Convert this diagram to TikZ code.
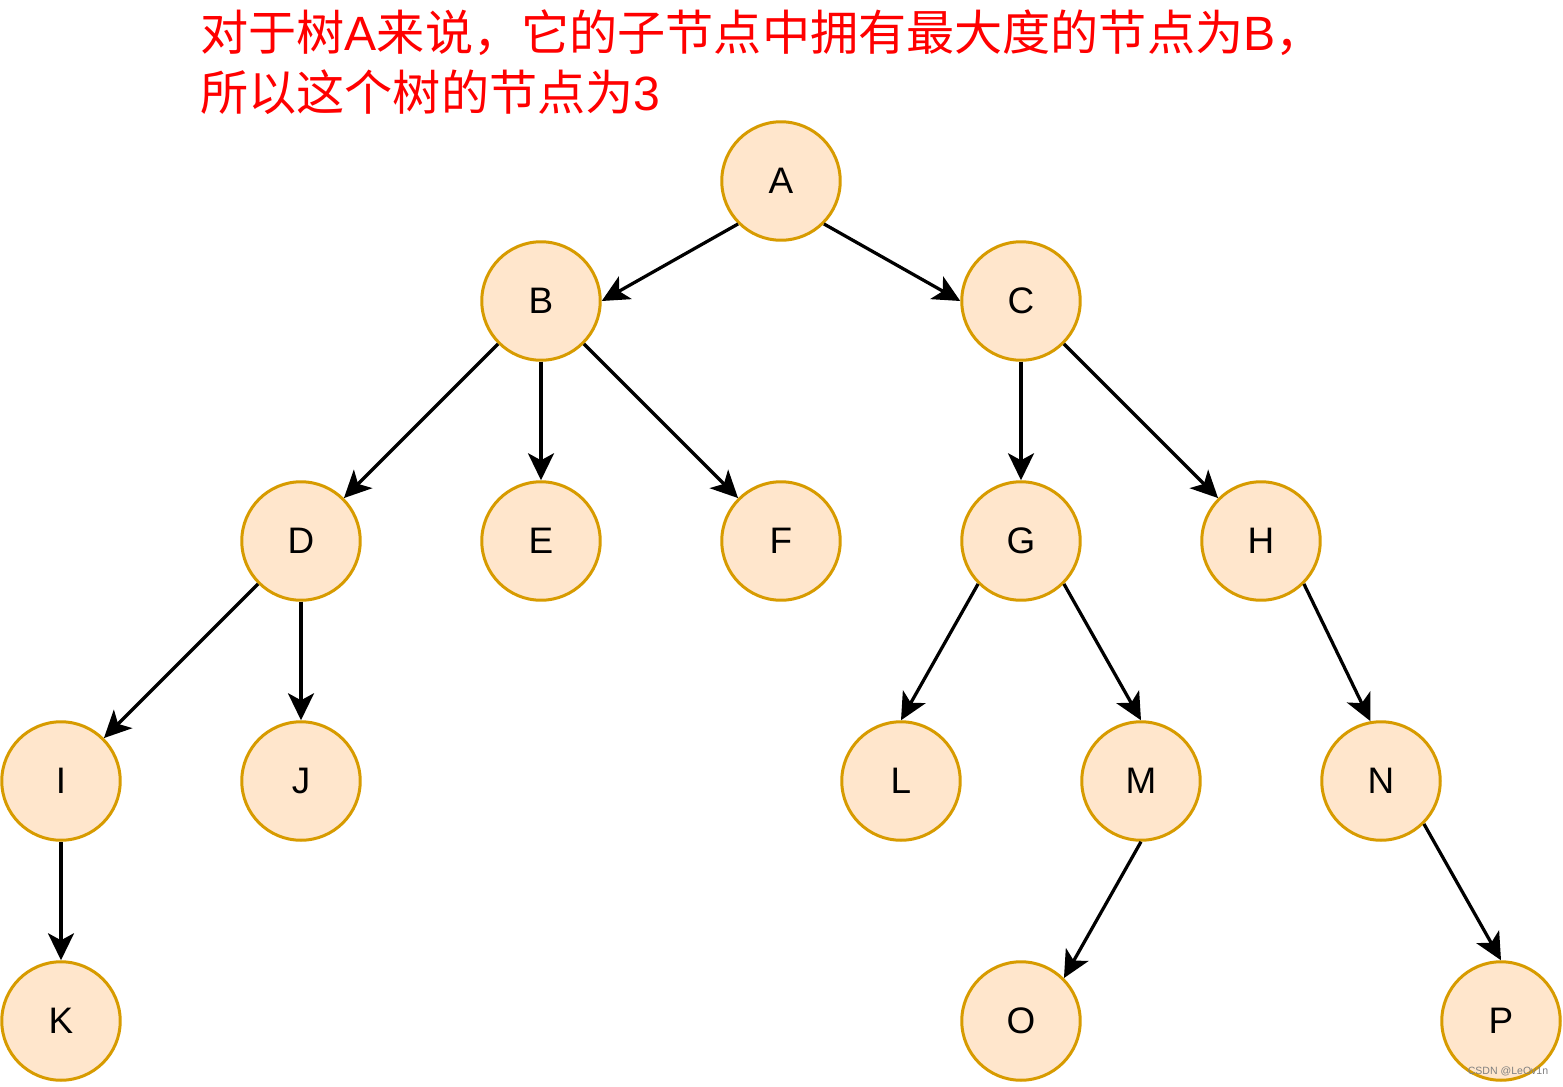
\documentclass[tikz,border=0pt]{standalone}
\usepackage{fontspec}
\setmainfont{Liberation Sans}
\newfontfamily\cjk{Noto Sans CJK SC}
\usetikzlibrary{arrows.meta}
\definecolor{nodefill}{HTML}{FFE6CC}
\definecolor{nodedraw}{HTML}{D79B00}
\begin{document}
\begin{tikzpicture}[x=0.02cm, y=-0.02cm,
        vertex/.style={draw=nodedraw, fill=nodefill, circle, line width=0.06cm, minimum size=2.37cm, inner sep=0pt, font=\fontsize{21}{25}\selectfont},
        edge/.style={-{Stealth[length=0.54cm, width=0.52cm, inset=0.14cm]}, line width=0.065cm}]
        \useasboundingbox (0,0) rectangle (1563,1086);
        \node[anchor=base west, inner sep=0pt, text=red, font=\fontsize{27.4}{31}\selectfont] (t1) at (200,50) {{\cjk 对于树}A{\cjk 来说，它的子节点中拥有最大度的节点为}B{\cjk ，}};
        \node[anchor=base west, inner sep=0pt, text=red, font=\fontsize{27.4}{31}\selectfont] (t2) at (200,110) {{\cjk 所以这个树的节点为}3};
        \node[vertex] (A) at (781,181) {A};
        \node[vertex] (B) at (541,301) {B};
        \node[vertex] (C) at (1021,301) {C};
        \node[vertex] (D) at (301,541) {D};
        \node[vertex] (E) at (541,541) {E};
        \node[vertex] (F) at (781,541) {F};
        \node[vertex] (G) at (1021,541) {G};
        \node[vertex] (H) at (1261,541) {H};
        \node[vertex] (I) at (61,781) {I};
        \node[vertex] (J) at (301,781) {J};
        \node[vertex] (L) at (901,781) {L};
        \node[vertex] (M) at (1141,781) {M};
        \node[vertex] (N) at (1381,781) {N};
        \node[vertex] (K) at (61,1021) {K};
        \node[vertex] (O) at (1021,1021) {O};
        \node[vertex] (P) at (1501,1021) {P};
        \node[text=gray, font=\fontsize{6}{7}\selectfont] (wm) at (1508,1071) {CSDN @LeOv1n};
        
        % Edge
        \draw[edge] (A.-135) -- (B.east);
        \draw[edge] (A.-45) -- (C.west);
        \draw[edge] (B.-135) -- (D.45);
        \draw[edge] (B.south) -- (E.north);
        \draw[edge] (B.-45) -- (F.135);
        \draw[edge] (C.south) -- (G.north);
        \draw[edge] (C.-45) -- (H.135);
        \draw[edge] (D.-135) -- (I.45);
        \draw[edge] (D.south) -- (J.north);
        \draw[edge] (G.-135) -- (L.north);
        \draw[edge] (G.-45) -- (M.north);
        \draw[edge] (H.-45) -- (N.100);
        \draw[edge] (I.south) -- (K.north);
        \draw[edge] (M.south) -- (O.45);
        \draw[edge] (N.-45) -- (P.north);
        \end{tikzpicture}
\end{document}
